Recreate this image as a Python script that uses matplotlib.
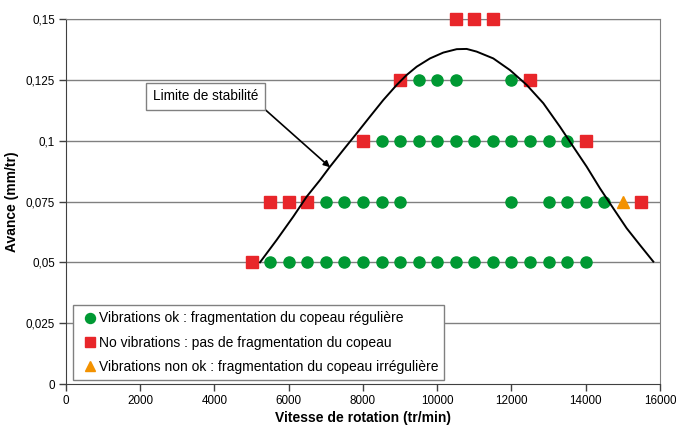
import matplotlib.pyplot as plt
from matplotlib.ticker import FuncFormatter

plt.rcParams['font.family'] = ['Liberation Sans', 'DejaVu Sans']

# Essais : vitesse de rotation (tr/min) et avance (mm/tr)
ok_vitesse = [5500, 6000, 6500, 7000, 7500, 8000, 8500, 9000, 9500, 10000,
              10500, 11000, 11500, 12000, 12500, 13000, 13500, 14000,
              7000, 7500, 8000, 8500, 9000, 12000, 13000, 13500, 14000, 14500,
              8500, 9000, 9500, 10000, 10500, 11000, 11500, 12000, 12500, 13000, 13500,
              9500, 10000, 10500, 12000]
ok_avance = [0.05] * 18 + [0.075] * 10 + [0.1] * 11 + [0.125] * 4

novib_vitesse = [5000, 5500, 6000, 6500, 15500, 8000, 14000, 9000, 12500,
                 10500, 11000, 11500]
novib_avance = [0.05, 0.075, 0.075, 0.075, 0.075, 0.1, 0.1, 0.125, 0.125,
                0.15, 0.15, 0.15]

nonok_vitesse = [15000]
nonok_avance = [0.075]

# Limite de stabilite
limite_vitesse = [5226, 5675, 6123, 6484, 6842, 7111, 7470, 7830, 8189, 8547,
                  8908, 9177, 9447, 9805, 10163, 10524, 10793,
                  11062, 11510, 11960, 12410, 12857, 13307, 13665, 14026,
                  14384, 14742, 15103, 15461, 15820]
limite_avance = [0.05, 0.0592, 0.0688, 0.0770, 0.0838, 0.0893, 0.0962, 0.1030, 0.1099, 0.1167,
                 0.1229, 0.1270, 0.1304, 0.1338, 0.1362, 0.1376, 0.1377,
                 0.1366, 0.1338, 0.1290, 0.1229, 0.1154, 0.1057, 0.0975, 0.0893,
                 0.0804, 0.0722, 0.0640, 0.0571, 0.0503]

y_ticks = [0, 0.025, 0.05, 0.075, 0.1, 0.125, 0.15]
x_ticks = [0, 2000, 4000, 6000, 8000, 10000, 12000, 14000, 16000]

fig = plt.figure(figsize=(6.76, 4.28), dpi=100)
ax = fig.add_axes([0.0976, 0.1028, 0.8787, 0.8528])

ax.set_xlim(0, 16000)
ax.set_ylim(0, 0.15)

for y in y_ticks[1:]:
    ax.axhline(y, color='#808080', lw=1.0, zorder=1)

ax.plot(ok_vitesse, ok_avance, 'o', color='#009933', ms=8, mec='#009933',
        ls='none', zorder=3, clip_on=False,
        label='Vibrations ok : fragmentation du copeau régulière')
ax.plot(novib_vitesse, novib_avance, 's', color='#E8262A', ms=8.5, mec='#E8262A',
        ls='none', zorder=3, clip_on=False,
        label='No vibrations : pas de fragmentation du copeau')
ax.plot(nonok_vitesse, nonok_avance, '^', color='#F39200', ms=8, mec='#F39200',
        ls='none', zorder=3, clip_on=False,
        label='Vibrations non ok : fragmentation du copeau irrégulière')

ax.plot(limite_vitesse, limite_avance, color='black', lw=1.4, zorder=4,
        solid_joinstyle='round')

ax.annotate('Limite de stabilité', xy=(7111, 0.0891), xytext=(3758, 0.1182),
            ha='center', va='center', fontsize=9.8,
            bbox=dict(boxstyle='square,pad=0.5', fc='white', ec='#808080', lw=1),
            arrowprops=dict(arrowstyle='-|>', color='black', lw=1.2,
                            mutation_scale=9, shrinkA=0, shrinkB=0,
                            relpos=(1.0, 0.0)),
            zorder=5)

ax.set_xticks(x_ticks)
ax.set_yticks(y_ticks)
ax.yaxis.set_major_formatter(FuncFormatter(lambda v, p: ('%g' % v).replace('.', ',')))
ax.xaxis.set_major_formatter(FuncFormatter(lambda v, p: '%d' % v))
ax.tick_params(direction='out', length=5, width=1, color='#404040',
               labelsize=8.4, pad=3)

for side in ['top', 'right']:
    ax.spines[side].set_color('#808080')
for side in ['left', 'bottom']:
    ax.spines[side].set_color('#404040')

ax.set_xlabel('Vitesse de rotation (tr/min)', fontsize=10, fontweight='bold', labelpad=3)
ax.set_ylabel('Avance (mm/tr)', fontsize=10, fontweight='bold', labelpad=5)

leg = ax.legend(loc='lower left', bbox_to_anchor=(0.012, 0.011), borderaxespad=0,
                fontsize=10, frameon=True, fancybox=False, framealpha=1,
                edgecolor='#808080', handlelength=1.6, handletextpad=-0.2,
                labelspacing=0.74, borderpad=0.43, markerscale=0.9)
leg.get_frame().set_linewidth(1)

fig.savefig('out.png', dpi=100)
